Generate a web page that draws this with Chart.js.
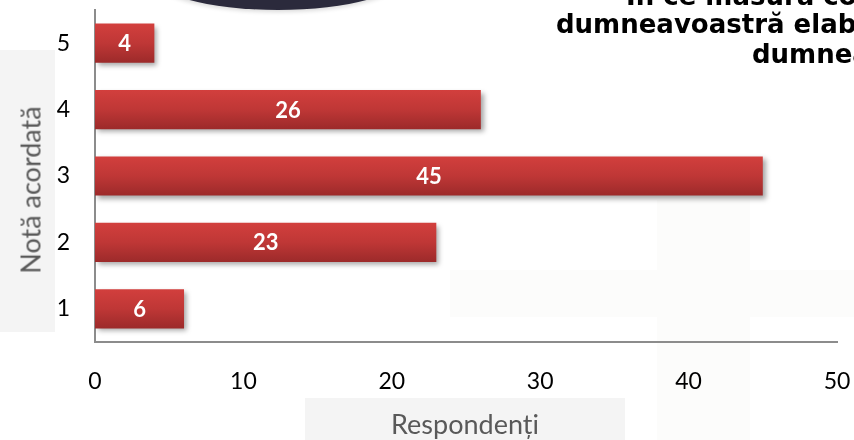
<!DOCTYPE html>
<html lang="ro">
<head>
<meta charset="utf-8">
<title>Notă acordată</title>
<script src="https://cdn.jsdelivr.net/npm/chart.js@4.4.1/dist/chart.umd.min.js"></script>
<style>
    html, body {
        margin: 0;
        padding: 0;
        width: 854px;
        height: 440px;
        overflow: hidden;
        background: #ffffff;
    }
    #stage {
        position: relative;
        width: 854px;
        height: 440px;
        overflow: hidden;
    }
    .deco {
        position: absolute;
    }
    #ellipse {
        left: 150px;
        top: -62px;
        width: 256px;
        height: 72px;
        border-radius: 50%;
        background: #2b2a3c;
        box-shadow: 0 2px 4px rgba(0, 0, 0, 0.15);
    }
    #crossV { left: 657px; top: 200px; width: 93px; height: 240px; background: #fcfcfb; }
    #crossH { left: 450px; top: 270px; width: 404px; height: 47px; background: #fcfcfb; }
    #boxY { left: 0; top: 50px; width: 55px; height: 282px; background: #f4f4f4; }
    #boxX { left: 305px; top: 398px; width: 320px; height: 42px; background: #f4f4f4; }
    canvas {
        position: absolute;
        left: 0;
        top: 0;
    }
    .title-line {
        position: absolute;
        white-space: nowrap;
        font-family: "DejaVu Sans", sans-serif;
        font-weight: bold;
        font-size: 26px;
        line-height: 1;
        color: #000000;
    }
    .axis-title {
        position: absolute;
        white-space: nowrap;
        font-family: Lato, sans-serif;
        font-size: 27px;
        color: #595959;
        line-height: 1;
    }
    #titleY {
        left: 30px;
        top: 190px;
        transform: translate(-50%, -50%) rotate(-90deg);
    }
    #titleX {
        left: 465px;
        top: 423px;
        transform: translate(-50%, -50%);
    }
</style>
</head>
<body>
<div id="stage">
    <div class="deco" id="crossV"></div>
    <div class="deco" id="crossH"></div>
    <div class="deco" id="boxY"></div>
    <div class="deco" id="boxX"></div>
    <div class="deco" id="ellipse"></div>

    <canvas id="chart" width="854" height="440"></canvas>

    <div class="title-line" style="left:626px; top:-17px;">În ce măsură considerați</div>
    <div class="title-line" style="left:556px; top:11px;">dumneavoastră elaborarea</div>
    <div class="title-line" style="left:752px; top:41px;">dumneavoastră</div>

    <div class="axis-title" id="titleY">Notă acordată</div>
    <div class="axis-title" id="titleX">Respondenți</div>
</div>

<script>
/*
| Notă acordată / Respondenți - horizontal bar chart
*/

const categories = ["5", "4", "3", "2", "1"];

const respondents = [4, 26, 45, 23, 6];

const xTicks = [0, 10, 20, 30, 40, 50];

const barPct = 0.59;

const axisColor = "#8c8c8c";

// gradient per bar, computed from the y scale band
function barGradient(context) {

    const chart = context.chart;

    const yScale = chart.scales.y;

    if (!chart.chartArea || !yScale || context.dataIndex === undefined) {
        return "#b83434";
    }

    const center = yScale.getPixelForValue(context.dataIndex);

    const half = (yScale.height / categories.length) * barPct / 2;

    const g = chart.ctx.createLinearGradient(0, center - half, 0, center + half);

    g.addColorStop(0, "#d23f3d");
    g.addColorStop(0.5, "#bf3736");
    g.addColorStop(1, "#9c2a2a");

    return g;
}

const barShadow = {

    id: "barShadow",

    beforeDatasetDraw(chart) {
        const ctx = chart.ctx;
        ctx.save();
        ctx.shadowColor = "rgba(0, 0, 0, 0.35)";
        ctx.shadowBlur = 5;
        ctx.shadowOffsetX = 3;
        ctx.shadowOffsetY = 3;
    },

    afterDatasetDraw(chart) {
        chart.ctx.restore();
    }
};

const valueLabels = {

    id: "valueLabels",

    afterDatasetsDraw(chart) {

        const ctx = chart.ctx;

        const meta = chart.getDatasetMeta(0);

        ctx.save();
        ctx.fillStyle = "#ffffff";
        ctx.font = "bold 22px Lato, sans-serif";
        ctx.textAlign = "center";
        ctx.textBaseline = "middle";

        meta.data.forEach((bar, i) => {
            const x = (bar.x + bar.base) / 2;
            ctx.fillText(String(respondents[i]), x, bar.y + 1);
        });

        ctx.restore();
    }
};

new Chart(document.getElementById("chart"), {

    type: "bar",

    data: {

        labels: categories,

        datasets: [{

            label: "Respondenți",

            data: respondents,

            backgroundColor: barGradient,

            borderWidth: 0,

            categoryPercentage: 1,

            barPercentage: barPct

        }]
    },

    options: {

        indexAxis: "y",

        responsive: false,

        animation: false,

        layout: {
            padding: { top: 10, right: 17, left: 0, bottom: 0 }
        },

        plugins: {
            legend: { display: false },
            tooltip: { enabled: false }
        },

        scales: {

            x: {
                min: xTicks[0],
                max: xTicks[xTicks.length - 1],
                afterBuildTicks(scale) {
                    scale.ticks = xTicks.map(v => ({ value: v }));
                },
                afterFit(scale) {
                    scale.height = 98;
                    scale.paddingLeft = 0;
                    scale.paddingRight = 0;
                },
                grid: { display: false, drawTicks: false },
                border: { display: true, color: axisColor, width: 2 },
                ticks: {
                    color: "#000000",
                    padding: 26,
                    maxRotation: 0,
                    autoSkip: false,
                    font: { family: "Lato", size: 23 }
                }
            },

            y: {
                afterFit(scale) {
                    scale.width = 95;
                    scale.paddingTop = 0;
                    scale.paddingBottom = 0;
                },
                grid: { display: false, drawTicks: false },
                border: { display: true, color: axisColor, width: 2 },
                ticks: {
                    color: "#000000",
                    padding: 25,
                    font: { family: "Lato", size: 23 }
                }
            }
        }
    },

    plugins: [barShadow, valueLabels]
});
</script>
</body>
</html>
